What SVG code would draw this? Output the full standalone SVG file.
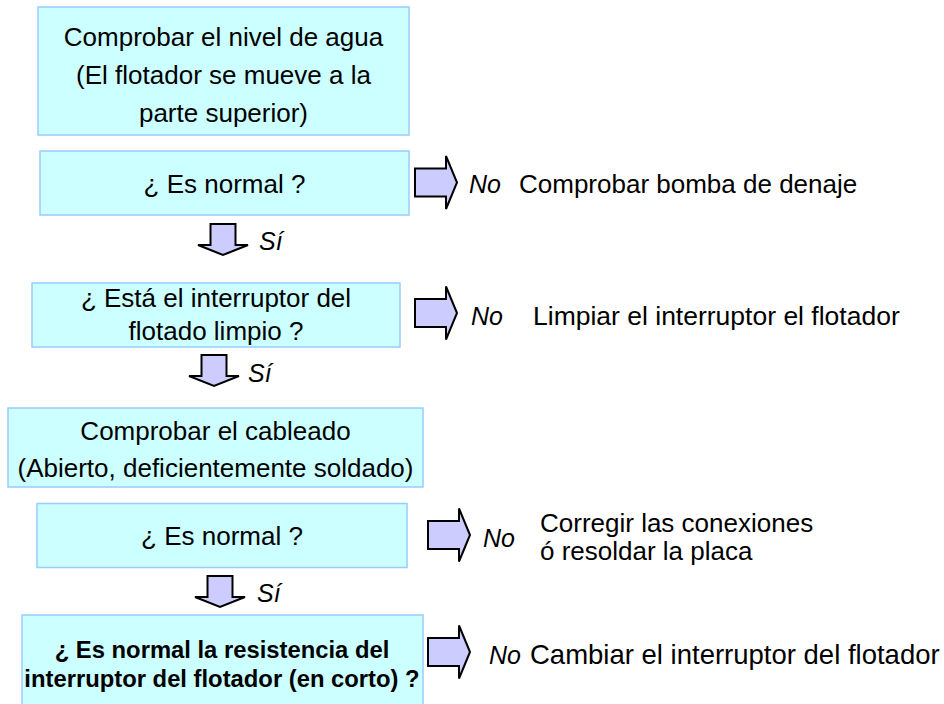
<svg xmlns="http://www.w3.org/2000/svg" width="944" height="704" viewBox="0 0 944 704">
<style>
.box{fill:#CCFFFF;stroke:#99CCFF;stroke-width:1.5}
.t{font-family:"Liberation Sans",Arial,sans-serif;font-size:26px;fill:#000}
.c{text-anchor:middle}
.b{font-weight:bold;font-size:23.8px}
.i{font-style:italic;font-size:25px}
.arr{fill:#CCCCFF;stroke:#000;stroke-width:2;stroke-linejoin:miter}
</style>
<defs>
<path id="ra" d="M0,-14 H31 V-26.5 L42,0 L31,26.5 V14 H0 Z"/>
<path id="da" d="M-12.5,0 H12.5 V21 H25 L0,31 L-25,21 H-12.5 Z"/>
</defs>
<rect width="944" height="704" fill="#fff"/>
<g id="n1"><rect class="box" x="38" y="7" width="371" height="128"/>
<text class="t c" x="223.5" y="46">Comprobar el nivel de agua</text>
<text class="t c" x="223.5" y="83.5">(El flotador se mueve a la</text>
<text class="t c" x="223.5" y="122">parte superior)</text></g>
<g id="n2"><rect class="box" x="40" y="151" width="369" height="64"/>
<text class="t c" x="224.5" y="193">¿ Es normal ?</text></g>
<g id="n3"><rect class="box" x="32" y="283" width="368" height="64"/>
<text class="t c" x="216" y="306.7">¿ Está el interruptor del</text>
<text class="t c" x="216" y="340">flotado limpio ?</text></g>
<g id="n4"><rect class="box" x="8" y="408" width="415" height="79"/>
<text class="t c" x="215.5" y="440">Comprobar el cableado</text>
<text class="t c" x="215.5" y="476.7">(Abierto, deficientemente soldado)</text></g>
<g id="n5"><rect class="box" x="37" y="503.5" width="370" height="64"/>
<text class="t c" x="222" y="545">¿ Es normal ?</text></g>
<g id="n6"><rect class="box" x="22" y="615" width="401" height="100"/>
<text class="t c b" x="222" y="658">¿ Es normal la resistencia del</text>
<text class="t c b" x="222" y="686.7">interruptor del flotador (en corto) ?</text></g>
<g id="r1"><text class="t" x="519" y="193">Comprobar bomba de denaje</text></g>
<g id="r2"><text class="t" x="533" y="325" style="font-size:26.5px">Limpiar el interruptor el flotador</text></g>
<g id="r3"><text class="t" x="540" y="532">Corregir las conexiones</text>
<text class="t" x="540" y="560">ó resoldar la placa</text></g>
<g id="r4"><text class="t" x="530" y="664" style="font-size:27.5px">Cambiar el interruptor del flotador</text></g>
<g id="connectors">
<use href="#ra" class="arr" x="415" y="182.5"/>
<text class="t i" x="469" y="193">No</text>
<use href="#ra" class="arr" x="415" y="313"/>
<text class="t i" x="471" y="325">No</text>
<use href="#ra" class="arr" x="428" y="535"/>
<text class="t i" x="483" y="547">No</text>
<use href="#ra" class="arr" x="428" y="652"/>
<text class="t i" x="489" y="664">No</text>
<use href="#da" class="arr" x="223" y="224"/>
<text class="t i" x="259" y="250">Sí</text>
<use href="#da" class="arr" x="214" y="355"/>
<text class="t i" x="248" y="382">Sí</text>
<use href="#da" class="arr" x="220" y="576"/>
<text class="t i" x="257" y="602">Sí</text>
</g>
</svg>
